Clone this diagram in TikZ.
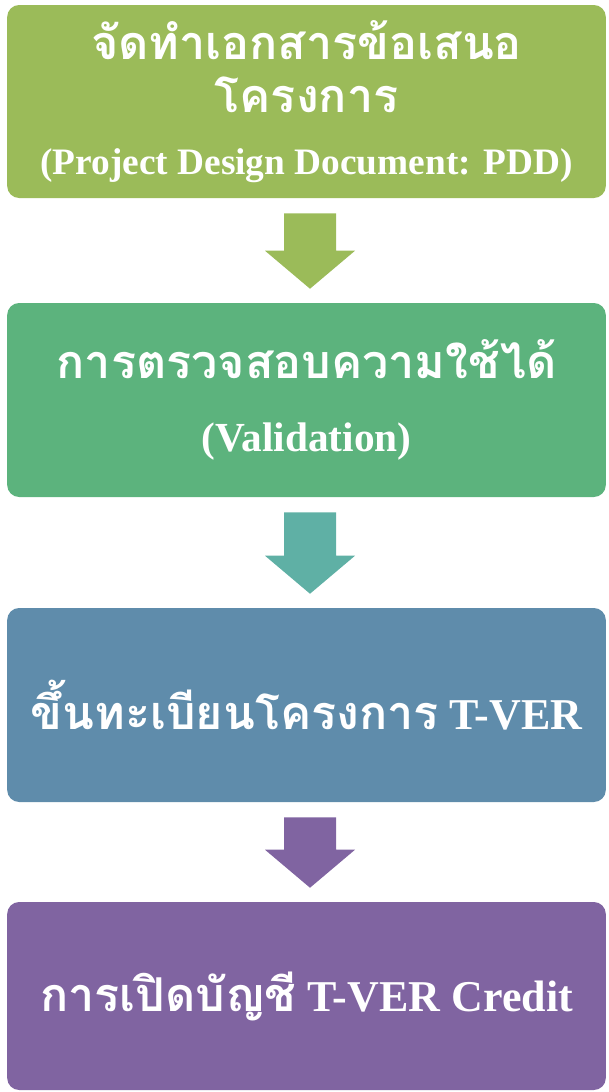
\documentclass[tikz,border=0pt]{standalone}
\usepackage{fontspec}
\setmainfont{Liberation Serif}
\newfontfamily\thaifont[Script=Thai]{Loma}
\usepackage{tikz}
\usetikzlibrary{calc}

\definecolor{olivebox}{RGB}{155,187,89}
\definecolor{greenbox}{RGB}{92,179,125}
\definecolor{tealarrow}{RGB}{95,176,165}
\definecolor{bluebox}{RGB}{95,140,171}
\definecolor{purplebox}{RGB}{128,100,161}

\newcommand{\thaipart}[1]{{\thaifont\fontsize{35}{35}\selectfont #1}}
\newcommand{\latpart}[2]{{\fontsize{#1}{#1}\selectfont #2}}

\tikzset{
    stepbox/.style={fill=#1, rounded corners=9pt, minimum width=449pt, inner sep=0pt,
        text=white, align=center, font=\bfseries\fontsize{33}{40}\selectfont}
}

\begin{document}
\begin{tikzpicture}[x=0.75pt, y=-0.75pt]
        \useasboundingbox (0,0) rectangle (608,1092);
        \node[stepbox=olivebox, minimum height=144.75pt] (pdd) at (306.5,101.5)
            {\thaipart{จัดทำเอกสารข้อเสนอ}\\
             \thaipart{โครงการ}\\[6pt]
             \latpart{28}{(Project Design Document: PDD)}};
        \node[stepbox=greenbox, minimum height=145.5pt] (valid) at (306.5,400)
            {\thaipart{การตรวจสอบความใช้ได้}\\[15pt]
             \latpart{31}{(Validation)}};
        \node[stepbox=bluebox, minimum height=145.5pt] (reg) at (306.5,705)
            {\thaipart{ขึ้นทะเบียนโครงการ} \latpart{33}{T-VER}};
        \node[stepbox=purplebox, minimum height=141pt] (credit) at (306.5,996)
            {\thaipart{การเปิดบัญชี} \latpart{33}{T-VER Credit}};
        \foreach \a/\b/\c in {pdd/valid/olivebox, valid/reg/tealarrow, reg/credit/purplebox}
        {
            \coordinate (top) at ($(\a.south)+(3.5,15)$);
            \coordinate (tip) at ($(\b.north)+(3.5,-14)$);
            \fill[\c] ($(top)+(-26,0)$) -- ($(top)+(26,0)$) -- ($(tip)+(26,-38)$)
                -- ($(tip)+(45,-38)$) -- (tip) -- ($(tip)+(-45,-38)$)
                -- ($(tip)+(-26,-38)$) -- cycle;
        }
    \end{tikzpicture}
\end{document}
